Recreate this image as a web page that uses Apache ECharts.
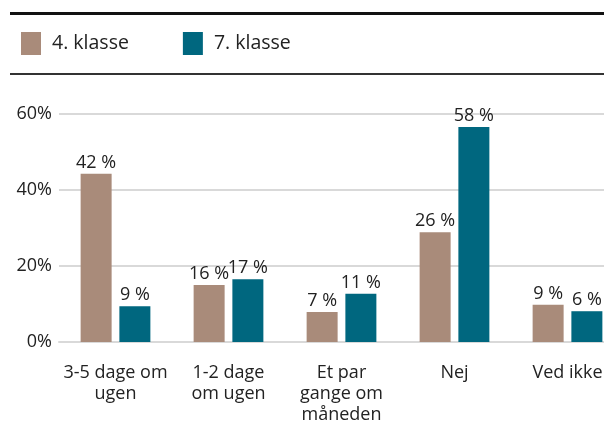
<!DOCTYPE html>
<html>
<head>
<meta charset="utf-8">
<script src="https://cdn.jsdelivr.net/npm/echarts@6/dist/echarts.min.js"></script>
<style>html,body{margin:0;padding:0;background:#fff;overflow:hidden;width:604px;height:425px}#c{width:624px;height:425px}</style>
</head>
<body>
<div id="c"></div>
<script>
const categories = ['3-5 dage om\nugen', '1-2 dage\nom ugen', 'Et par\ngange om\nmåneden', 'Nej', 'Ved ikke'];
const seriesNames = ['4. klasse', '7. klasse'];
// bar heights as drawn in the picture (%)
const klasse4 = [44.3, 15.0, 7.9, 28.9, 9.8];
const klasse7 = [9.4, 16.5, 12.7, 56.6, 8.1];
// printed data labels (%)
const labels4 = [42, 16, 7, 26, 9];
const labels7 = [9, 17, 11, 58, 6];
const yTicks = [0, 20, 40, 60];

const FONT = '"Open Sans", "Noto Sans", sans-serif';
const chart = echarts.init(document.getElementById('c'), null, {renderer: 'canvas'});
const lbl = (arr) => ({
  show: true, position: 'top', distance: 2,
  fontFamily: FONT, fontSize: 18, color: '#222',
  formatter: (p) => arr[p.dataIndex] + ' %'
});
chart.setOption({
  animation: false,
  textStyle: {fontFamily: FONT},
  color: ['#A98B7A', '#00677F'],
  legend: {
    left: 16, top: 27, itemWidth: 20, itemHeight: 23, itemGap: 54,
    icon: 'rect',
    textStyle: {fontFamily: FONT, fontSize: 19.5, color: '#222', padding: [0, 0, 0, 6]},
    data: seriesNames
  },
  graphic: [
    {type: 'rect', shape: {x: 10, y: 12, width: 614, height: 3}, style: {fill: '#111'}},
    {type: 'rect', shape: {x: 10, y: 73, width: 614, height: 2}, style: {fill: '#333'}}
  ],
  grid: {left: 59, top: 114, width: 565, height: 229},
  xAxis: {
    type: 'category', data: categories,
    axisTick: {show: false},
    axisLine: {show: true, lineStyle: {color: '#d9d9d9', width: 2}},
    axisLabel: {fontFamily: FONT, fontSize: 18, color: '#222', lineHeight: 21, margin: 20, interval: 0}
  },
  yAxis: {
    type: 'value', min: yTicks[0], max: yTicks[yTicks.length - 1], interval: 20,
    axisLine: {show: false}, axisTick: {show: false},
    axisLabel: {fontFamily: FONT, fontSize: 18, color: '#222', margin: 7, formatter: '{value}%'},
    splitLine: {lineStyle: {color: '#d9d9d9', width: 2}}
  },
  series: [
    {name: seriesNames[0], type: 'bar', data: klasse4, barWidth: 31, barGap: '25%', label: lbl(labels4)},
    {name: seriesNames[1], type: 'bar', data: klasse7, barWidth: 31, barGap: '25%', label: lbl(labels7)}
  ]
});
</script>
</body>
</html>
